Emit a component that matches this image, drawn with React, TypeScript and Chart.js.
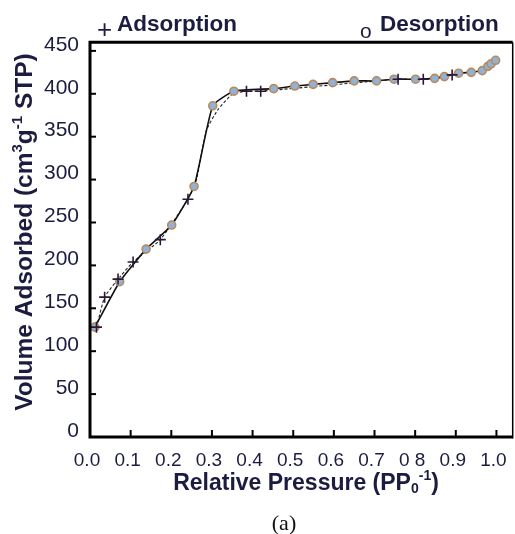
import { useEffect, useRef } from "react";
import { Chart, registerables } from "chart.js";

Chart.register(...registerables);

// ---- data ----
const adsorptionP = [0.016, 0.036, 0.069, 0.106, 0.173, 0.241, 0.385, 0.42, 0.758, 0.82, 0.891];
const adsorptionV = [128, 163, 184, 204, 230, 277, 403, 403, 417, 417, 422];
// unmarked points on the adsorption branch inside the hysteresis loop
const adsorptionLoopP = [0.262, 0.286, 0.314, 0.351];
const adsorptionLoopV = [300, 357, 381, 400];

const desorptionP = [0.012, 0.073, 0.138, 0.201, 0.256, 0.302, 0.354, 0.452, 0.504, 0.549, 0.597, 0.65, 0.705, 0.748, 0.801, 0.848, 0.872, 0.907, 0.938, 0.965, 0.979, 0.987, 0.998];
const desorptionV = [128, 181, 219, 247, 292, 386, 403, 406, 409, 411, 413, 415, 415, 417, 417, 418, 420, 424, 425, 427, 432, 435, 439];

const xTickValues = [0, 0.1, 0.2, 0.3, 0.4, 0.5, 0.6, 0.7, 0.8, 0.9, 1.0];
const xTickLabels = ["0.0", "0.1", "0.2", "0.3", "0.4", "0.5", "0.6", "0.7", "0 8", "0.9", "1.0"];
const yTickValues = [0, 50, 100, 150, 200, 250, 300, 350, 400, 450];
const yTickLabels = ["0", "50", "100", "150", "200", "250", "300", "350", "400", "450"];

const legendAdsorption = "Adsorption";
const legendDesorption = "Desorption";
const caption = "(a)";

type Seg = { t: string; mode?: "sup" | "sub" };
const xTitle: Seg[] = [
  { t: "Relative Pressure (PP" },
  { t: "0", mode: "sub" },
  { t: "-1", mode: "sup" },
  { t: ")" },
];
const yTitle: Seg[] = [
  { t: "Volume Adsorbed (cm" },
  { t: "3", mode: "sup" },
  { t: "g" },
  { t: "-1", mode: "sup" },
  { t: " STP)" },
];

const NAVY = "#1c1c40";
const SANS = '"Liberation Sans", Arial, Helvetica, sans-serif';
const SERIF = '"Liberation Serif", "Times New Roman", serif';

function toPoints(px: number[], py: number[]) {
  return px.map((x, i) => ({ x, y: py[i] }));
}

function drawRich(
  ctx: CanvasRenderingContext2D,
  segs: Seg[],
  cx: number,
  cy: number,
  size: number,
  rotation: number
) {
  const big = `bold ${size}px ${SANS}`;
  const small = `bold ${Math.round(size * 0.62)}px ${SANS}`;
  const widths = segs.map((s) => {
    ctx.font = s.mode ? small : big;
    return ctx.measureText(s.t).width;
  });
  const total = widths.reduce((a, b) => a + b, 0);
  ctx.save();
  ctx.translate(cx, cy);
  ctx.rotate(rotation);
  ctx.fillStyle = NAVY;
  ctx.textAlign = "left";
  ctx.textBaseline = "alphabetic";
  const baseY = size * 0.36;
  let x = -total / 2;
  segs.forEach((s, i) => {
    ctx.font = s.mode ? small : big;
    const dy = s.mode === "sup" ? -size * 0.42 : s.mode === "sub" ? size * 0.12 : 0;
    ctx.fillText(s.t, x, baseY + dy);
    x += widths[i];
  });
  ctx.restore();
}

const decorPlugin = {
  id: "decor",
  afterDraw(chart: any) {
    const { ctx, chartArea: a, scales } = chart;
    ctx.save();
    ctx.strokeStyle = "#000";
    ctx.lineCap = "butt";
    // inner tick marks
    ctx.lineWidth = 2;
    xTickValues.forEach((v) => {
      const px = scales.x.getPixelForValue(v);
      ctx.beginPath();
      ctx.moveTo(px, a.bottom);
      ctx.lineTo(px, a.bottom - 7);
      ctx.stroke();
    });
    yTickValues.forEach((v) => {
      const py = scales.y.getPixelForValue(v);
      ctx.beginPath();
      ctx.moveTo(a.left, py);
      ctx.lineTo(a.left + 6, py);
      ctx.stroke();
    });
    // frame
    ctx.lineWidth = 3;
    ctx.beginPath();
    ctx.moveTo(a.left, a.top);
    ctx.lineTo(a.left, a.bottom);
    ctx.lineTo(a.right, a.bottom);
    ctx.moveTo(a.left - 1.5, a.top);
    ctx.lineTo(a.right, a.top);
    ctx.stroke();
    ctx.lineWidth = 1.5;
    ctx.beginPath();
    ctx.moveTo(a.right, a.top);
    ctx.lineTo(a.right, a.bottom + 1.5);
    ctx.stroke();

    // legend texts
    ctx.fillStyle = NAVY;
    ctx.textAlign = "center";
    ctx.textBaseline = "middle";
    ctx.font = `26px ${SANS}`;
    ctx.fillText("+", 104.5, 31);
    ctx.textAlign = "left";
    ctx.textBaseline = "alphabetic";
    ctx.font = `bold 22.5px ${SANS}`;
    ctx.fillText(legendAdsorption, 117, 31);
    ctx.font = `21px ${SANS}`;
    ctx.fillText("o", 360, 37.5);
    ctx.font = `bold 22.5px ${SANS}`;
    ctx.fillText(legendDesorption, 380, 31);

    // axis titles
    drawRich(ctx, xTitle, 306, 481.5, 23, 0);
    drawRich(ctx, yTitle, 23.5, 232, 24.5, -Math.PI / 2);

    // caption
    ctx.fillStyle = "#111";
    ctx.textAlign = "center";
    ctx.textBaseline = "alphabetic";
    ctx.font = `22px ${SERIF}`;
    ctx.fillText(caption, 284, 530);
    ctx.restore();
  },
};

export default function App() {
  const ref = useRef<HTMLCanvasElement>(null);
  useEffect(() => {
    const adsorptionCurve = toPoints(
      [...adsorptionP, ...adsorptionLoopP],
      [...adsorptionV, ...adsorptionLoopV]
    ).sort((p, q) => p.x - q.x);
    const chart = new Chart(ref.current as HTMLCanvasElement, {
      type: "scatter",
      data: {
        datasets: [
          {
            label: "Adsorption",
            data: toPoints(adsorptionP, adsorptionV),
            showLine: false,
            pointStyle: "cross",
            pointRadius: 5.5,
            pointBorderWidth: 1.6,
            pointBorderColor: "#2a1838",
            pointBackgroundColor: "#2a1838",
          },
          {
            label: "Desorption",
            data: toPoints(desorptionP, desorptionV),
            showLine: true,
            borderColor: "#111",
            borderWidth: 1.6,
            tension: 0.15,
            pointStyle: "circle",
            pointRadius: 4,
            pointBorderWidth: 1.6,
            pointBorderColor: "#b98a5c",
            pointBackgroundColor: "#8fb2d6",
          },
          {
            label: "Adsorption branch",
            data: adsorptionCurve,
            showLine: true,
            borderColor: "#222",
            borderWidth: 1.1,
            borderDash: [3, 2],
            tension: 0.15,
            pointRadius: 0,
          },
        ],
      },
      options: {
        responsive: false,
        animation: false,
        layout: { autoPadding: false, padding: { top: 42.3, right: 2.3, left: 0, bottom: 0 } },
        plugins: { legend: { display: false }, tooltip: { enabled: false }, title: { display: false } },
        scales: {
          x: {
            type: "linear",
            min: 0,
            max: 1.04,
            afterBuildTicks: (s: any) => {
              s.ticks = xTickValues.map((value) => ({ value }));
            },
            afterFit: (s: any) => {
              s.height = 97;
              s.paddingLeft = 0;
              s.paddingRight = 0;
            },
            grid: { display: false, drawTicks: false },
            border: { display: false },
            ticks: {
              autoSkip: false,
              maxRotation: 0,
              padding: 12,
              labelOffset: -3,
              color: NAVY,
              font: { family: SANS, size: 19 },
              callback: (v: any) => xTickLabels[xTickValues.findIndex((t) => Math.abs(t - Number(v)) < 1e-6)],
            },
          },
          y: {
            type: "linear",
            min: 0,
            max: 460,
            afterBuildTicks: (s: any) => {
              s.ticks = yTickValues.map((value) => ({ value }));
            },
            afterFit: (s: any) => {
              s.width = 90;
              s.paddingTop = 0;
              s.paddingBottom = 0;
            },
            grid: { display: false, drawTicks: false },
            border: { display: false },
            ticks: {
              autoSkip: false,
              padding: 11,
              labelOffset: -6,
              color: NAVY,
              font: { family: SANS, size: 21 },
              callback: (v: any) => yTickLabels[yTickValues.findIndex((t) => Math.abs(t - Number(v)) < 1e-6)],
            },
          },
        },
      },
      plugins: [decorPlugin],
    } as any);
    return () => chart.destroy();
  }, []);
  return (
    <div style={{ position: "fixed", left: 0, top: 0, width: 515, height: 534, background: "#fff" }}>
      <canvas ref={ref} width={515} height={534} />
    </div>
  );
}
